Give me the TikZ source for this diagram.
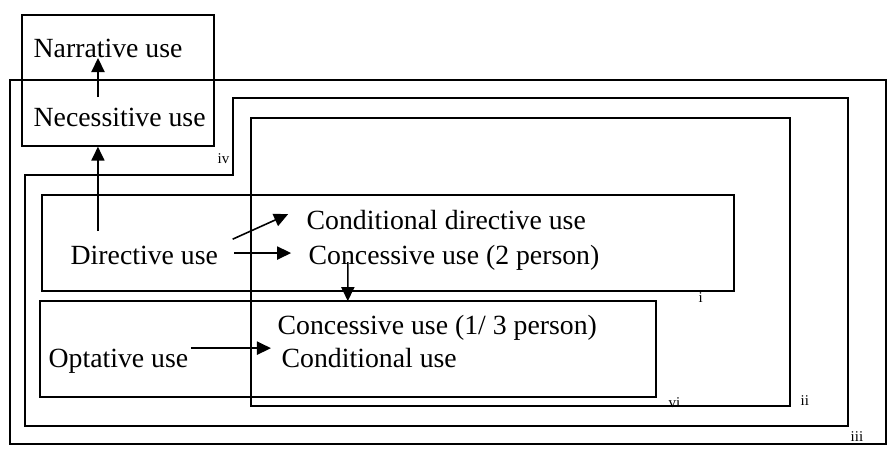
\documentclass[tikz,border=0pt]{standalone}
\usepackage{fontspec}
\setmainfont{Liberation Serif}
\usetikzlibrary{positioning,shapes,arrows.meta}

\begin{document}
\begin{tikzpicture}[x=0.02cm,y=-0.02cm,>={Triangle[length=8pt,width=7.5pt]},line width=0.8pt,
    txt/.style={inner sep=0,anchor=base west,font=\fontsize{15.8}{19}\selectfont},
    tag/.style={inner sep=0,anchor=base west,font=\fontsize{8.5}{10}\selectfont},
    usearrow/.style={->,line width=0.9pt}]
    \useasboundingbox (0,0) rectangle (887,473);
    % nested regions iii, iv, ii, i, vi
    \draw[line width=1.2pt] (10,80) rectangle (886,444);
    \draw (233,98) -- (848,98) -- (848,426) -- (25,426) -- (25,175) -- (233,175) -- cycle;
    \draw (251,118) rectangle (790,406);
    \draw (42,195) rectangle (734,291);
    \draw (40,301) rectangle (656,397);
    \node[draw,inner sep=0,minimum width=3.84cm,minimum height=2.62cm] (narrbox) at (118,80.5) {};
    
    % uses
    \node[txt] (narr) at (33,58) {Narrative use};
    \node[txt] (nec) at (33,127) {Necessitive use};
    \node[txt] (dir) at (70,265) {Directive use};
    \node[txt] (cdir) at (306,230) {Conditional directive use};
    \node[txt] (con2) at (308,265) {Concessive use (2 person)};
    \node[txt] (con13) at (277,335) {Concessive use (1/ 3 person)};
    \node[txt] (opt) at (48,368) {Optative use};
    \node[txt] (cond) at (281,368) {Conditional use};
    
    % region labels
    \node[tag] (ti) at (698,302) {i};
    \node[tag] (tii) at (800,405) {ii};
    \node[tag] (tiii) at (850,441) {iii};
    \node[tag] (tiv) at (217,164) {iv};
    \node[tag] (tvi) at (668,407) {vi};
    
    % arrows
    \draw[usearrow] ([xshift=37pt,yshift=17pt]nec.base west) -- ([xshift=37pt]narr.base west);
    \coordinate (dtop) at ([xshift=15.9pt,yshift=19.3pt]dir.base west);
    \draw[usearrow] (dtop) -- (dtop |- narrbox.south);
    \draw[usearrow] ([xshift=8pt,yshift=14.7pt]dir.base east) -- ([xshift=-10.2pt,yshift=9pt]cdir.base west);
    \draw[usearrow] ([xshift=9pt,yshift=6.8pt]dir.base east) -- ([xshift=-9.6pt,yshift=6.8pt]con2.base west);
    \draw[usearrow] ([xshift=22.7pt,yshift=1.7pt]con2.base west) -- ([xshift=40.3pt,yshift=19.3pt]con13.base west);
    \draw[usearrow] ([xshift=1.1pt,yshift=11.3pt]opt.base east) -- ([xshift=-5.7pt,yshift=11.3pt]cond.base west);
\end{tikzpicture}
\end{document}
